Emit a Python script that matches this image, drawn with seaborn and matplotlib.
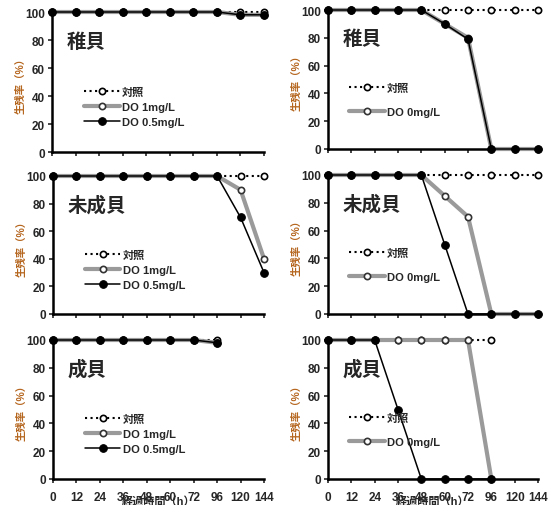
import matplotlib
matplotlib.use("Agg")
import matplotlib.pyplot as plt
import seaborn as sns

# elapsed time (h), shown as evenly spaced categories
hours = [0, 12, 24, 36, 48, 60, 72, 96, 120, 144]

# left column: control / DO 1mg/L / DO 0.5mg/L
juv_ctrl = [100, 100, 100, 100, 100, 100, 100, 100, 100, 100]
juv_do1 = [100, 100, 100, 100, 100, 100, 100, 100, 98, 98]
juv_do05 = [100, 100, 100, 100, 100, 100, 100, 100, 98, 98]

imm_ctrl = [100, 100, 100, 100, 100, 100, 100, 100, 100, 100]
imm_do1 = [100, 100, 100, 100, 100, 100, 100, 100, 90, 40]
imm_do05 = [100, 100, 100, 100, 100, 100, 100, 100, 70, 30]

adu_ctrl = [100, 100, 100, 100, 100, 100, 100, 100]
adu_do1 = [100, 100, 100, 100, 100, 100, 100, 98]
adu_do05 = [100, 100, 100, 100, 100, 100, 100, 98]

# right column: control / DO 0mg/L (grey) / second DO 0mg/L series (black)
juv0_ctrl = [100, 100, 100, 100, 100, 100, 100, 100, 100, 100]
juv0_grey = [100, 100, 100, 100, 100, 90, 80, 0, 0, 0]
juv0_black = [100, 100, 100, 100, 100, 90, 79, 0, 0, 0]

imm0_ctrl = [100, 100, 100, 100, 100, 100, 100, 100, 100, 100]
imm0_grey = [100, 100, 100, 100, 100, 85, 70, 0, 0, 0]
imm0_black = [100, 100, 100, 100, 100, 50, 0, 0, 0, 0]

adu0_ctrl = [100, 100, 100, 100, 100, 100, 100, 100]
adu0_grey = [100, 100, 100, 100, 100, 100, 100, 0]
adu0_black = [100, 100, 100, 50, 0, 0, 0, 0]

stage_names = ["稚貝", "未成貝", "成貝"]
ylabel = "生残率（%）"
xlabel = "経過時間（h）"

sns.set_style("ticks")
plt.rcParams["font.family"] = ["Liberation Sans", "Noto Sans CJK JP", "DejaVu Sans"]
plt.rcParams["font.weight"] = "bold"

fig = plt.figure(figsize=(5.49, 5.06), dpi=100)

W, H = 549, 506


def px_axes(x0, x1, y100, y0):
    return fig.add_axes([x0 / W, 1 - y0 / H, (x1 - x0) / W, (y0 - y100) / H])


ctrl_style = dict(color="black", linestyle=":", linewidth=1.5, marker="o", markersize=4.5,
                  markerfacecolor="white", markeredgecolor="black", markeredgewidth=1.2)
grey_style = dict(color="#9a9a9a", linestyle="-", linewidth=3.0, marker="o", markersize=4.5,
                  markerfacecolor="white", markeredgecolor="#333333", markeredgewidth=1.2)
black_style = dict(color="black", linestyle="-", linewidth=1.1, marker="o", markersize=5.5,
                   markerfacecolor="black", markeredgecolor="black")


def draw_panel(ax, title, series, legend_anchor, spacing, show_x):
    for values, label, style in series:
        sns.lineplot(x=list(range(len(values))), y=values, ax=ax, label=label,
                     clip_on=False, zorder=3, **style)
    ax.set_xlim(0, len(hours) - 1)
    ax.set_ylim(0, 100)
    ax.set_yticks([0, 20, 40, 60, 80, 100])
    ax.set_xticks(range(len(hours)))
    if show_x:
        ax.set_xticklabels([str(h) for h in hours], fontsize=8.5, fontweight="bold")
        ax.set_xlabel(xlabel, fontsize=8, fontweight="bold", labelpad=-6)
    else:
        ax.set_xticklabels([])
    ax.tick_params(axis="y", labelsize=8.5, length=3, width=1.2, pad=2)
    ax.tick_params(axis="x", length=3, width=1.2, pad=6)
    for lab in ax.get_yticklabels():
        lab.set_fontweight("bold")
    ax.set_ylabel(ylabel, fontsize=7.5, fontweight="bold", color="#b5651d", labelpad=0)
    for side in ["top", "right"]:
        ax.spines[side].set_visible(False)
    for side in ["left", "bottom"]:
        ax.spines[side].set_linewidth(1.8)
        ax.spines[side].set_color("black")
    ax.text(0.07, 0.79, title, transform=ax.transAxes, fontsize=14, fontweight="bold",
            va="center", ha="left")
    ax.legend(loc="upper left", bbox_to_anchor=legend_anchor, frameon=False, fontsize=8,
              handlelength=3.2, labelspacing=spacing, handletextpad=0.2, borderaxespad=0)


left_sets = [
    (juv_ctrl, juv_do1, juv_do05, (52, 264, 13, 153)),
    (imm_ctrl, imm_do1, imm_do05, (53, 264, 177, 315)),
    (adu_ctrl, adu_do1, adu_do05, (53, 264, 341, 480)),
]
right_sets = [
    (juv0_ctrl, juv0_grey, juv0_black, (328, 538, 11, 150)),
    (imm0_ctrl, imm0_grey, imm0_black, (328, 538, 176, 315)),
    (adu0_ctrl, adu0_grey, adu0_black, (328, 538, 341, 480)),
]

for i, (c, g, b, box) in enumerate(left_sets):
    ax = px_axes(*box)
    draw_panel(ax, stage_names[i],
               [(c, "対照", ctrl_style), (g, "DO 1mg/L", grey_style), (b, "DO 0.5mg/L", black_style)],
               (0.13, 0.5), 0.45, i == 2)

for i, (c, g, b, box) in enumerate(right_sets):
    ax = px_axes(*box)
    draw_panel(ax, stage_names[i],
               [(c, "対照", ctrl_style), (g, "DO 0mg/L", grey_style), (b, "_nolegend_", black_style)],
               (0.08, 0.51), 1.3, i == 2)

fig.savefig("out.png", dpi=100)
plt.close(fig)
